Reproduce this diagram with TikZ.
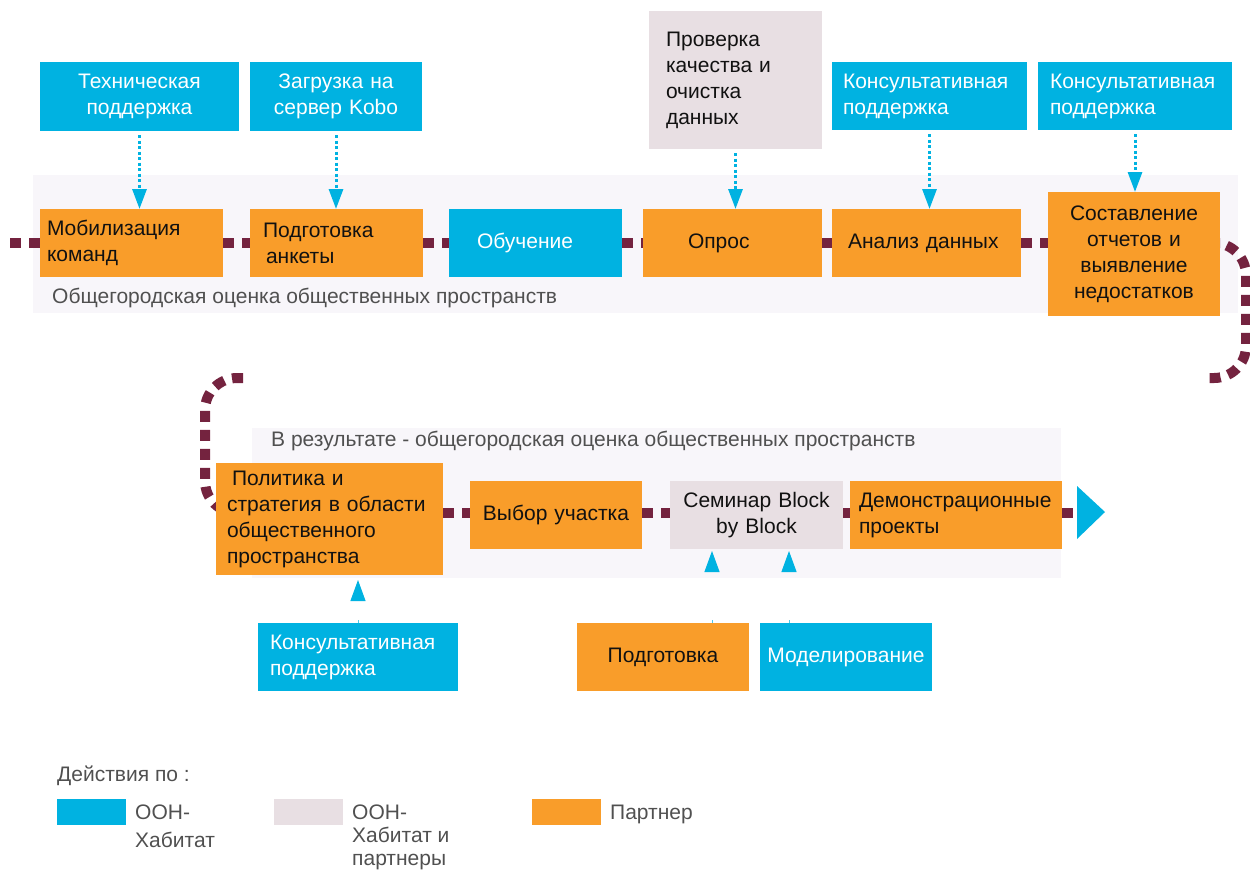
\documentclass[tikz,border=0pt]{standalone}
\usepackage{fontspec}
\setmainfont{Liberation Sans}
\usetikzlibrary{arrows.meta,backgrounds}
\definecolor{cOr}{HTML}{F99D2A}
\definecolor{cBl}{HTML}{00B2E1}
\definecolor{cGr}{HTML}{E8DFE3}
\definecolor{cMa}{HTML}{74233F}
\definecolor{cBand}{HTML}{F8F6FA}
\definecolor{cTx}{HTML}{505050}
\definecolor{cBk}{HTML}{111111}
\begin{document}
\begin{tikzpicture}[x=1pt,y=-1pt,
  base/.style={inner ysep=0pt, outer sep=0pt, anchor=north west, font=\fontsize{21}{26}\selectfont},
  obox/.style={base, fill=cOr, text=cBk},
  bbox/.style={base, fill=cBl, text=white},
  gbox/.style={base, fill=cGr, text=cBk},
  flow/.style={draw=cMa, line width=10pt, dash pattern=on 11pt off 8pt},
  dotarrow/.style={draw=cBl, line width=3pt, dash pattern=on 3pt off 2.5pt, shorten <=4pt,
    -{Triangle[width=14pt,length=20pt]}},
  uparrow/.style={draw=cBl!70, line width=1pt, dash pattern=on 3pt off 300pt,
    -{Triangle[width=15pt,length=21pt,color=cBl]}},
  label/.style={anchor=base west, inner sep=0pt, text=cTx, font=\fontsize{21}{25}\selectfont},
  legsq/.style={anchor=north west, inner sep=0pt, minimum width=69pt, minimum height=26pt},
  legtx/.style={anchor=north west, inner sep=0pt, text=cTx, align=left}
]
\useasboundingbox (0,0) rectangle (1250,871);

% top row boxes
\node[obox, minimum width=183pt, minimum height=68pt, text width=169pt, inner xsep=7pt, align=left] (mob) at (40,209) {Мобилизация\\команд};
\node[obox, minimum width=173pt, minimum height=68pt, text width=147pt, inner xsep=13pt, align=left] (pod) at (250,209) {Подготовка\\\hspace*{3pt}анкеты};
\node[bbox, minimum width=173pt, minimum height=68pt, text width=117pt, inner xsep=28pt, align=left] (obu) at (449,209) {Обучение};
\node[obox, minimum width=179pt, minimum height=68pt, text width=89pt, inner xsep=45pt, align=left] (opr) at (643,209) {Опрос};
\node[obox, minimum width=189pt, minimum height=68pt, text width=157pt, inner xsep=16pt, align=left] (ana) at (832,209) {Анализ данных};
\node[obox, minimum width=172pt, minimum height=124pt, text width=164pt, inner xsep=4pt, align=center] (sos) at (1048,192) {Составление\\отчетов и\\выявление\\недостатков};

% upper support boxes
\node[bbox, minimum width=199pt, minimum height=69pt, text width=191pt, inner xsep=4pt, align=center] (tech) at (40,62) {Техническая\\поддержка};
\node[bbox, minimum width=172pt, minimum height=69pt, text width=164pt, inner xsep=4pt, align=center] (kobo) at (250,62) {Загрузка на\\сервер Kobo};
\node[gbox, minimum width=173pt, minimum height=138pt, text width=139pt, inner xsep=17pt, align=left] (prov) at (649,11) {Проверка\\качества и\\очистка\\данных};
\node[bbox, minimum width=195pt, minimum height=68pt, text width=173pt, inner xsep=11pt, align=left] (kons1) at (832,62) {Консультативная\\поддержка};
\node[bbox, minimum width=194pt, minimum height=68pt, text width=170pt, inner xsep=12pt, align=left] (kons2) at (1038,62) {Консультативная\\поддержка};

% bottom row boxes
\node[obox, minimum width=227pt, minimum height=112pt, text width=205pt, inner xsep=11pt, align=left] (pol) at (216,463) {\hspace*{5pt}Политика и\\стратегия в области\\общественного\\пространства};
\node[obox, minimum width=172pt, minimum height=68pt, text width=168pt, inner xsep=2pt, align=center] (vyb) at (470,481) {Выбор участка};
\node[gbox, minimum width=173pt, minimum height=68pt, text width=169pt, inner xsep=2pt, align=center] (sem) at (670,481) {Семинар Block\\by Block};
\node[obox, minimum width=212pt, minimum height=68pt, text width=194pt, inner xsep=9pt, align=left] (dem) at (850,481) {Демонстрационные\\проекты};

% lower support boxes
\node[bbox, minimum width=200pt, minimum height=68pt, text width=176pt, inner xsep=12pt, align=left] (kons3) at (258,623) {Консультативная\\поддержка};
\node[obox, minimum width=172pt, minimum height=68pt, text width=168pt, inner xsep=2pt, align=center] (podg) at (577,623) {Подготовка};
\node[bbox, minimum width=172pt, minimum height=68pt, text width=170pt, inner xsep=1pt, align=center] (mod) at (760,623) {Моделирование};

% coordinates
\coordinate (st) at (10,243);
\coordinate (r2) at (0,513);
\coordinate (ce) at (1207,378);
\coordinate (cs) at (243,378);
\coordinate (tri) at (1077,513);

\begin{pgfonlayer}{background}
  % bands
  \fill[cBand] (33,175) rectangle (1238,313);
  \fill[cBand] (252,428) rectangle (1061,578);
  % flow line
  \draw[flow] (st) -- (mob.west);
  \draw[flow] (mob.east) -- (pod.west);
  \draw[flow] (pod.east) -- (obu.west);
  \draw[flow] (obu.east) -- (opr.west);
  \draw[flow] (opr.east) -- (ana.west);
  \draw[flow] (ana.east) -- (sos.west |- st);
  \draw[flow, rounded corners=32pt] (sos.east |- st) -- (1246,243) -- (1246,378) -- (ce);
  \draw[flow, rounded corners=32pt] (cs) -- (205,378) -- (205,513) -- (pol.center |- r2);
  \draw[flow] (pol.east |- r2) -- (vyb.west |- r2);
  \draw[flow] (vyb.east |- r2) -- (sem.west |- r2);
  \draw[flow] (sem.east |- r2) -- (dem.west |- r2);
  \draw[flow] (dem.east |- r2) -- (tri);
\end{pgfonlayer}

\node[label] (lab1) at (52,303) {Общегородская оценка общественных пространств};
\node[label] (lab2) at (271,446) {В результате - общегородская оценка общественных пространств};

\fill[cBl] (1077,486) -- (1105,512) -- (1077,539) -- cycle;

% dotted arrows
\draw[dotarrow] (tech.south) -- (tech.south |- mob.north);
\draw[dotarrow] (kobo.south) -- (kobo.south |- pod.north);
\draw[dotarrow] (prov.south) -- (prov.south |- opr.north);
\draw[dotarrow] (kons1.south) -- (kons1.south |- ana.north);
\draw[dotarrow] (kons2.south) -- (kons2.south |- sos.north);

% up arrows
\coordinate (a1) at (712,0);
\coordinate (a2) at (789,0);
\draw[uparrow, shorten >=5pt] (kons3.north) -- (kons3.north |- pol.south);
\draw[uparrow, shorten >=2pt] (podg.north -| a1) -- (sem.south -| a1);
\draw[uparrow, shorten >=2pt] (mod.north -| a2) -- (sem.south -| a2);

% legend
\node[label, anchor=north west] (legh) at (57,766) {Действия по :};
\node[legsq, fill=cBl] (lg1) at (57,799) {};
\node[legtx, font=\fontsize{21}{28}\selectfont] (lt1) at (135,805) {ООН-\\Хабитат};
\node[legsq, fill=cGr] (lg2) at (274,799) {};
\node[legtx, font=\fontsize{21}{23}\selectfont] (lt2) at (352,805) {ООН-\\Хабитат и\\партнеры};
\node[legsq, fill=cOr] (lg3) at (532,799) {};
\node[legtx, font=\fontsize{21}{23}\selectfont] (lt3) at (610,805) {Партнер};
\end{tikzpicture}
\end{document}
